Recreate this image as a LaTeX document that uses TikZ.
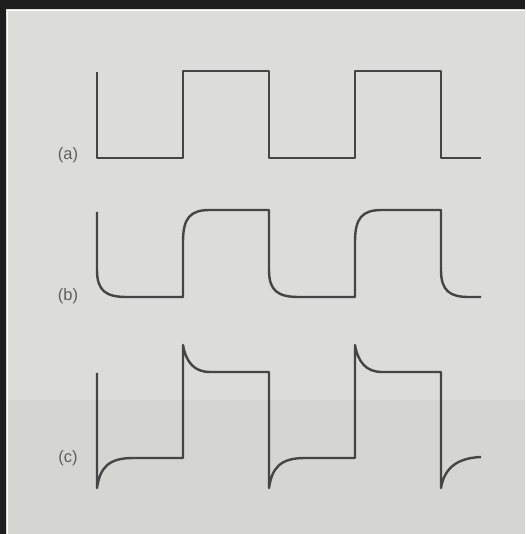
\documentclass[tikz,border=0pt]{standalone}
\usepackage{fontspec}
\setsansfont{Liberation Sans}
\definecolor{paper}{HTML}{DCDCDA}
\definecolor{paperlow}{HTML}{D5D5D3}
\definecolor{frame}{HTML}{1E1E1E}
\definecolor{trace}{HTML}{454545}
\definecolor{labelgray}{HTML}{5E5E5E}
\usepackage{tikz}

\begin{document}
\begin{tikzpicture}[x=1pt,y=1pt,
    wave/.style={trace,line width=2.4pt,line join=round},
    tag/.style={labelgray,font=\sffamily\fontsize{16.5}{18}\selectfont}]
    \useasboundingbox (0,0) rectangle (525,534);
    \fill[paper] (0,0) rectangle (525,534);
    \fill[paperlow] (0,0) rectangle (525,134);
    \fill[frame] (0,525) rectangle (525,534);
    \fill[frame] (0,0) rectangle (6,534);
    \draw[white,line width=1.5pt] (7.5,0) -- (7.5,523.5) -- (525,523.5);
    % (a) square wave
    \draw[wave] (97,462) -- (97,376) -- (183,376) -- (183,463) -- (269,463)
        -- (269,376) -- (355,376) -- (355,463) -- (441,463) -- (441,376) -- (481,376);
    \node[tag] (la) at (68,379) {(a)};
    % (b) integrated
    \draw[wave] (97,322) -- (97,264) .. controls (97,243) and (106,237) .. (127,237)
        -- (183,237) -- (183,292) .. controls (183,316) and (190,324) .. (210,324)
        -- (269,324) -- (269,264) .. controls (269,243) and (278,237) .. (299,237)
        -- (355,237) -- (355,292) .. controls (355,316) and (362,324) .. (382,324)
        -- (441,324) -- (441,264) .. controls (441,243) and (450,237) .. (469,237)
        -- (481,237);
    \node[tag] (lb) at (68,238) {(b)};
    % (c) differentiated
    \draw[wave] (97,161) -- (97,46) .. controls (100,66) and (108,76) .. (133,76)
        -- (183,76) -- (183,189) .. controls (186,172) and (194,162) .. (210,162)
        -- (269,162) -- (269,46) .. controls (272,66) and (280,76) .. (305,76)
        -- (355,76) -- (355,189) .. controls (358,172) and (366,162) .. (382,162)
        -- (441,162) -- (441,46) .. controls (444,64) and (455,76) .. (481,77);
    \node[tag] (lc) at (68,76) {(c)};
\end{tikzpicture}
\end{document}
